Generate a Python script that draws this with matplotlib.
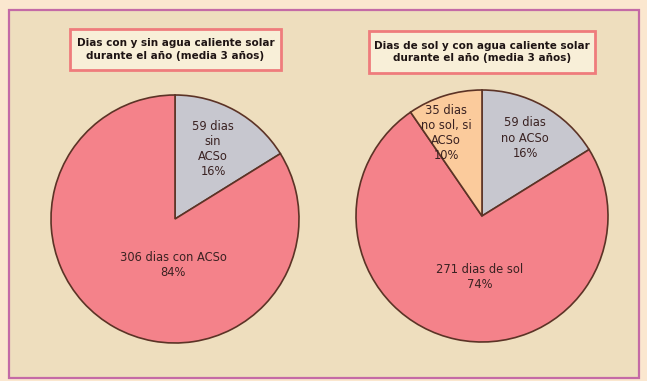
import matplotlib
matplotlib.use("Agg")
import matplotlib.pyplot as plt
from matplotlib.patches import Rectangle

# Chart 1: days with / without solar hot water
left_title = "Dias con y sin agua caliente solar\ndurante el año (media 3 años)"
left_labels = ["59 dias\nsin\nACSo", "306 dias con ACSo"]
left_values = [59, 306]
left_colors = ["#c7c7cf", "#f4828a"]

# Chart 2: sunny days and solar hot water
right_title = "Dias de sol y con agua caliente solar\ndurante el año (media 3 años)"
right_labels = ["59 dias\nno ACSo", "271 dias de sol", "35 dias\nno sol, si\nACSo"]
right_values = [59, 271, 35]
right_colors = ["#c7c7cf", "#f4828a", "#fbcb9c"]

W, H = 647, 381
fig = plt.figure(figsize=(W / 100, H / 100), dpi=100)
fig.patch.set_facecolor("#fbe7cf")
ax = fig.add_axes([0, 0, 1, 1])
ax.set_xlim(0, W)
ax.set_ylim(0, H)
ax.axis("off")

# parchment panel with a thin frame
ax.add_patch(Rectangle((9, 3), 630, 368, facecolor="#eedebe",
                       edgecolor="#c46aa6", lw=1.6, zorder=0))

text_color = "#3a2222"
edge_color = "#5c3326"
font = "DejaVu Sans"


def draw_pie(values, labels, colors, center, radius, label_pos, title, box):
    ax.pie(values, colors=colors, startangle=90, counterclock=False,
           center=center, radius=radius, frame=True,
           wedgeprops=dict(edgecolor=edge_color, linewidth=1.2))
    total = sum(values)
    for v, lab, (dx, dy) in zip(values, labels, label_pos):
        pct = round(100 * v / total)
        ax.text(center[0] + dx, center[1] + dy, f"{lab}\n{pct}%",
                ha="center", va="center", fontsize=8.3, color=text_color,
                family=font, linespacing=1.22, zorder=5)
    x0, y0, w, h = box
    ax.add_patch(Rectangle((x0, y0), w, h, facecolor="#f8efd8",
                           edgecolor="#ef7c7c", lw=2, zorder=4))
    ax.text(x0 + w / 2, y0 + h / 2, title, ha="center", va="center",
            fontsize=7.5, fontweight="bold", color="#1e1414", family=font,
            linespacing=1.3, zorder=5)


draw_pie(left_values, left_labels, left_colors, (175, H - 219), 124,
         [(38, -(149 - 219)), (-2, -(265 - 219))],
         left_title, (70, H - 70, 211, 41))

draw_pie(right_values, right_labels, right_colors, (482, H - 216), 126,
         [(43, -(138 - 216)), (-2, -(277 - 216)), (-36, -(133 - 216))],
         right_title, (369, H - 73, 226, 42))

ax.set_xlim(0, W)
ax.set_ylim(0, H)
ax.set_aspect("auto")
fig.savefig("out.png", dpi=100, facecolor=fig.get_facecolor())
